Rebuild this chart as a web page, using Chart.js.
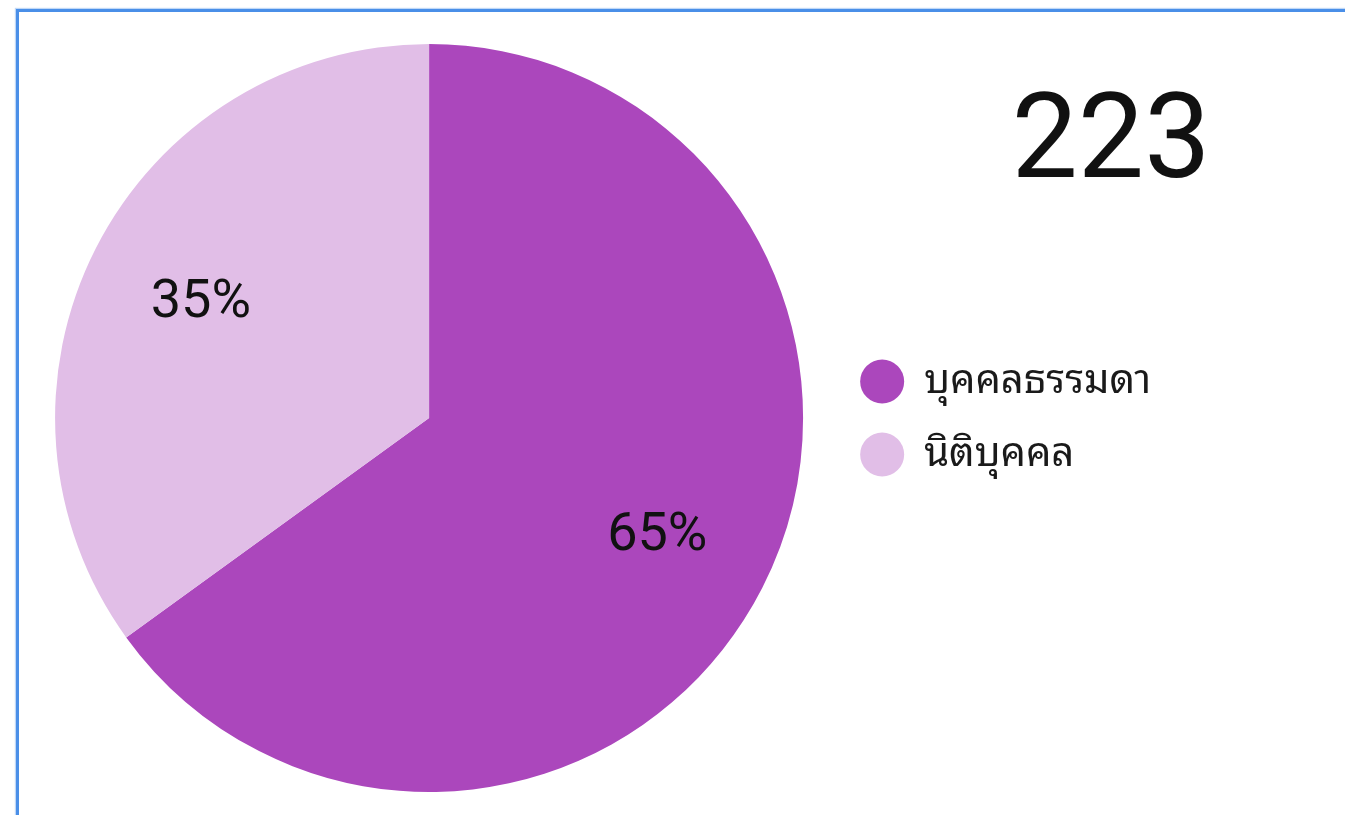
<!DOCTYPE html>
<html>
<head>
<meta charset="utf-8">
<script src="https://cdn.jsdelivr.net/npm/chart.js@4.4.0/dist/chart.umd.min.js"></script>
<style>
    html, body { margin: 0; padding: 0; background: #fff; overflow: hidden; }
    #frame {
        position: absolute; left: 16px; top: 9px; width: 1400px; height: 900px;
        border-left: 3px solid #4a8fe8; border-top: 3px solid #4a8fe8;
        box-shadow: -1px -1px 1px rgba(74,143,232,0.35);
    }
    #grafica { position: absolute; left: 0; top: 0; }
</style>
</head>
<body>
<div id="frame"></div>
<canvas id="grafica" width="1345" height="815"></canvas>
<script>
// datos
const categorias = ['บุคคลธรรมดา', 'นิติบุคคล'];
const valores = [145, 78];
const colores = ['#ab47bc', '#e1bee7'];

const fuenteNum = "Roboto, 'Noto Sans', sans-serif";
const fuenteThai = "'Noto Sans Thai Looped', Loma, Garuda, Waree, 'Noto Sans Thai', 'Noto Sans', sans-serif";

// etiquetas de porcentaje y total
const etiquetas = {
    id: 'etiquetas',
    afterDraw: function(chart) {
        let ctx = chart.ctx;
        let meta = chart.getDatasetMeta(0);
        let total = valores.reduce((a, b) => a + b, 0);
        ctx.save();
        ctx.fillStyle = '#111';
        ctx.font = '54px ' + fuenteNum;
        ctx.textAlign = 'center';
        ctx.textBaseline = 'middle';
        for (let i = 0; i < meta.data.length; i++) {
            let arc = meta.data[i];
            let p = arc.getProps(['x', 'y', 'startAngle', 'endAngle', 'outerRadius'], true);
            let medio = (p.startAngle + p.endAngle) / 2;
            let d = p.outerRadius * 0.685;
            let pct = Math.round(valores[i] / total * 100) + '%';
            ctx.fillText(pct, p.x + Math.cos(medio) * d, p.y + Math.sin(medio) * d + 2);
        }
        ctx.font = '118px ' + fuenteNum;
        ctx.textBaseline = 'alphabetic';
        ctx.fillText(String(total), 1111, 177);
        ctx.restore();
    }
};

var ctx = document.getElementById('grafica').getContext('2d');
var graph = new Chart(ctx, {
    type: 'pie',
    data: {
        labels: categorias,
        datasets: [{
            data: valores,
            backgroundColor: colores,
            borderWidth: 0
        }]
    },
    options: {
        responsive: false,
        animation: false,
        layout: {
            padding: { top: 44, bottom: 23, left: 31, right: 184 }
        },
        plugins: {
            tooltip: { enabled: false },
            legend: {
                position: 'right',
                align: 'center',
                labels: {
                    usePointStyle: true,
                    pointStyle: 'circle',
                    boxHeight: 31,
                    pointStyleWidth: 44,
                    padding: 33,
                    color: '#1a1a1a',
                    font: { size: 40, family: fuenteThai }
                }
            }
        }
    },
    plugins: [etiquetas]
});
</script>
</body>
</html>
